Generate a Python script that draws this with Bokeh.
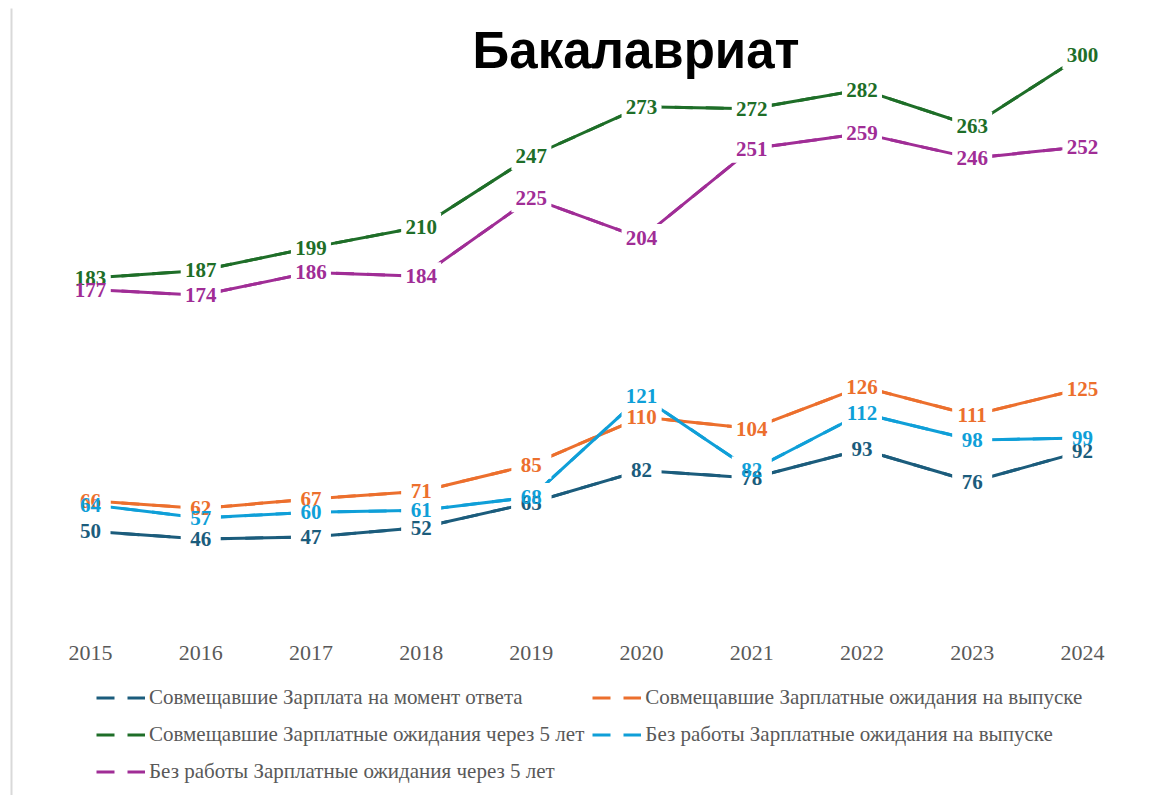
from bokeh.plotting import figure
from bokeh.models import Legend, LegendItem, FixedTicker, Label
from bokeh.core.properties import value
from bokeh.embed import file_html
from bokeh.resources import INLINE

title_text = "Бакалавриат"
years = [2015, 2016, 2017, 2018, 2019, 2020, 2021, 2022, 2023, 2024]
tick_labels = ["2015", "2016", "2017", "2018", "2019", "2020", "2021", "2022", "2023", "2024"]

names = [
    "Совмещавшие Зарплата на момент ответа",
    "Совмещавшие Зарплатные ожидания на выпуске",
    "Совмещавшие Зарплатные ожидания через 5 лет",
    "Без работы Зарплатные ожидания на выпуске",
    "Без работы Зарплатные ожидания через 5 лет",
]
s1 = [50, 46, 47, 52, 65, 82, 78, 93, 76, 92]
s2 = [66, 62, 67, 71, 85, 110, 104, 126, 111, 125]
s3 = [183, 187, 199, 210, 247, 273, 272, 282, 263, 300]
s4 = [64, 57, 60, 61, 68, 121, 82, 112, 98, 99]
s5 = [177, 174, 186, 184, 225, 204, 251, 259, 246, 252]
colors = ["#1b5c7c", "#ec6f2d", "#1e6e28", "#0f9fd8", "#a02d96"]
series = [s1, s2, s3, s4, s5]

p = figure(width=1153, height=795, x_range=(2014.283, 2024.5), y_range=(-88.76, 324.6),
           output_backend="svg", toolbar_location=None,
           min_border_left=11, min_border_right=16, min_border_top=8, min_border_bottom=0)
p.outline_line_color = None
p.grid.visible = False
p.background_fill_color = "white"

# x axis (drawn at value 0 inside the frame)
p.xaxis.fixed_location = 0
p.xaxis.ticker = FixedTicker(ticks=years)
p.xaxis.major_label_overrides = {y: t for y, t in zip(years, tick_labels)}
p.xaxis.axis_line_color = None
p.xaxis.major_tick_line_color = None
p.xaxis.minor_tick_line_color = None
p.xaxis.major_label_text_font = "Liberation Serif"
p.xaxis.major_label_text_font_size = "22px"
p.xaxis.major_label_text_color = "#595959"
p.xaxis.major_label_standoff = 13

# y axis: only a thin gray line at left
p.yaxis.ticker = FixedTicker(ticks=[])
p.yaxis.major_tick_line_color = None
p.yaxis.minor_tick_line_color = None
p.yaxis.major_label_text_font_size = "0px"
p.yaxis.major_label_standoff = 0
p.yaxis.axis_line_color = "#d9d9d9"
p.yaxis.axis_line_width = 2

legend_renderers = []
for vals, c in zip(series, colors):
    r = p.line(years, vals, line_color=c, line_width=3, line_dash="18 13")
    legend_renderers.append(r)
for vals, c in zip(series, colors):
    p.line(years, vals, line_color=c, line_width=3)

for vals in series:
    p.rect(years, vals, width=40, height=28, width_units="screen", height_units="screen",
           fill_color="white", line_color=None)

for vals, c in zip(series, colors):
    p.text(years, vals, text=[str(v) for v in vals], text_color=c,
           text_font=value("Liberation Serif"), text_font_style="bold",
           text_font_size="21px", text_align="center", text_baseline="middle")

p.add_layout(Label(x=2019.95, y=302.5, text=title_text, text_font="Liberation Sans",
                   text_font_style="bold", text_font_size="51px", text_align="center",
                   text_baseline="alphabetic", text_color="black"))

items = [LegendItem(label=n, renderers=[r]) for n, r in zip(names, legend_renderers)]
legend = Legend(items=items, ncols=2, orientation="horizontal", location=(85, 9),
                label_text_font="Liberation Serif", label_text_font_size="21px",
                label_text_color="#595959", glyph_width=49, glyph_height=29,
                label_height=29, label_standoff=4, spacing=8, padding=0, margin=0,
                border_line_alpha=0, background_fill_alpha=0)
p.add_layout(legend, "center")

open("out.html", "w").write(file_html(p, INLINE))
